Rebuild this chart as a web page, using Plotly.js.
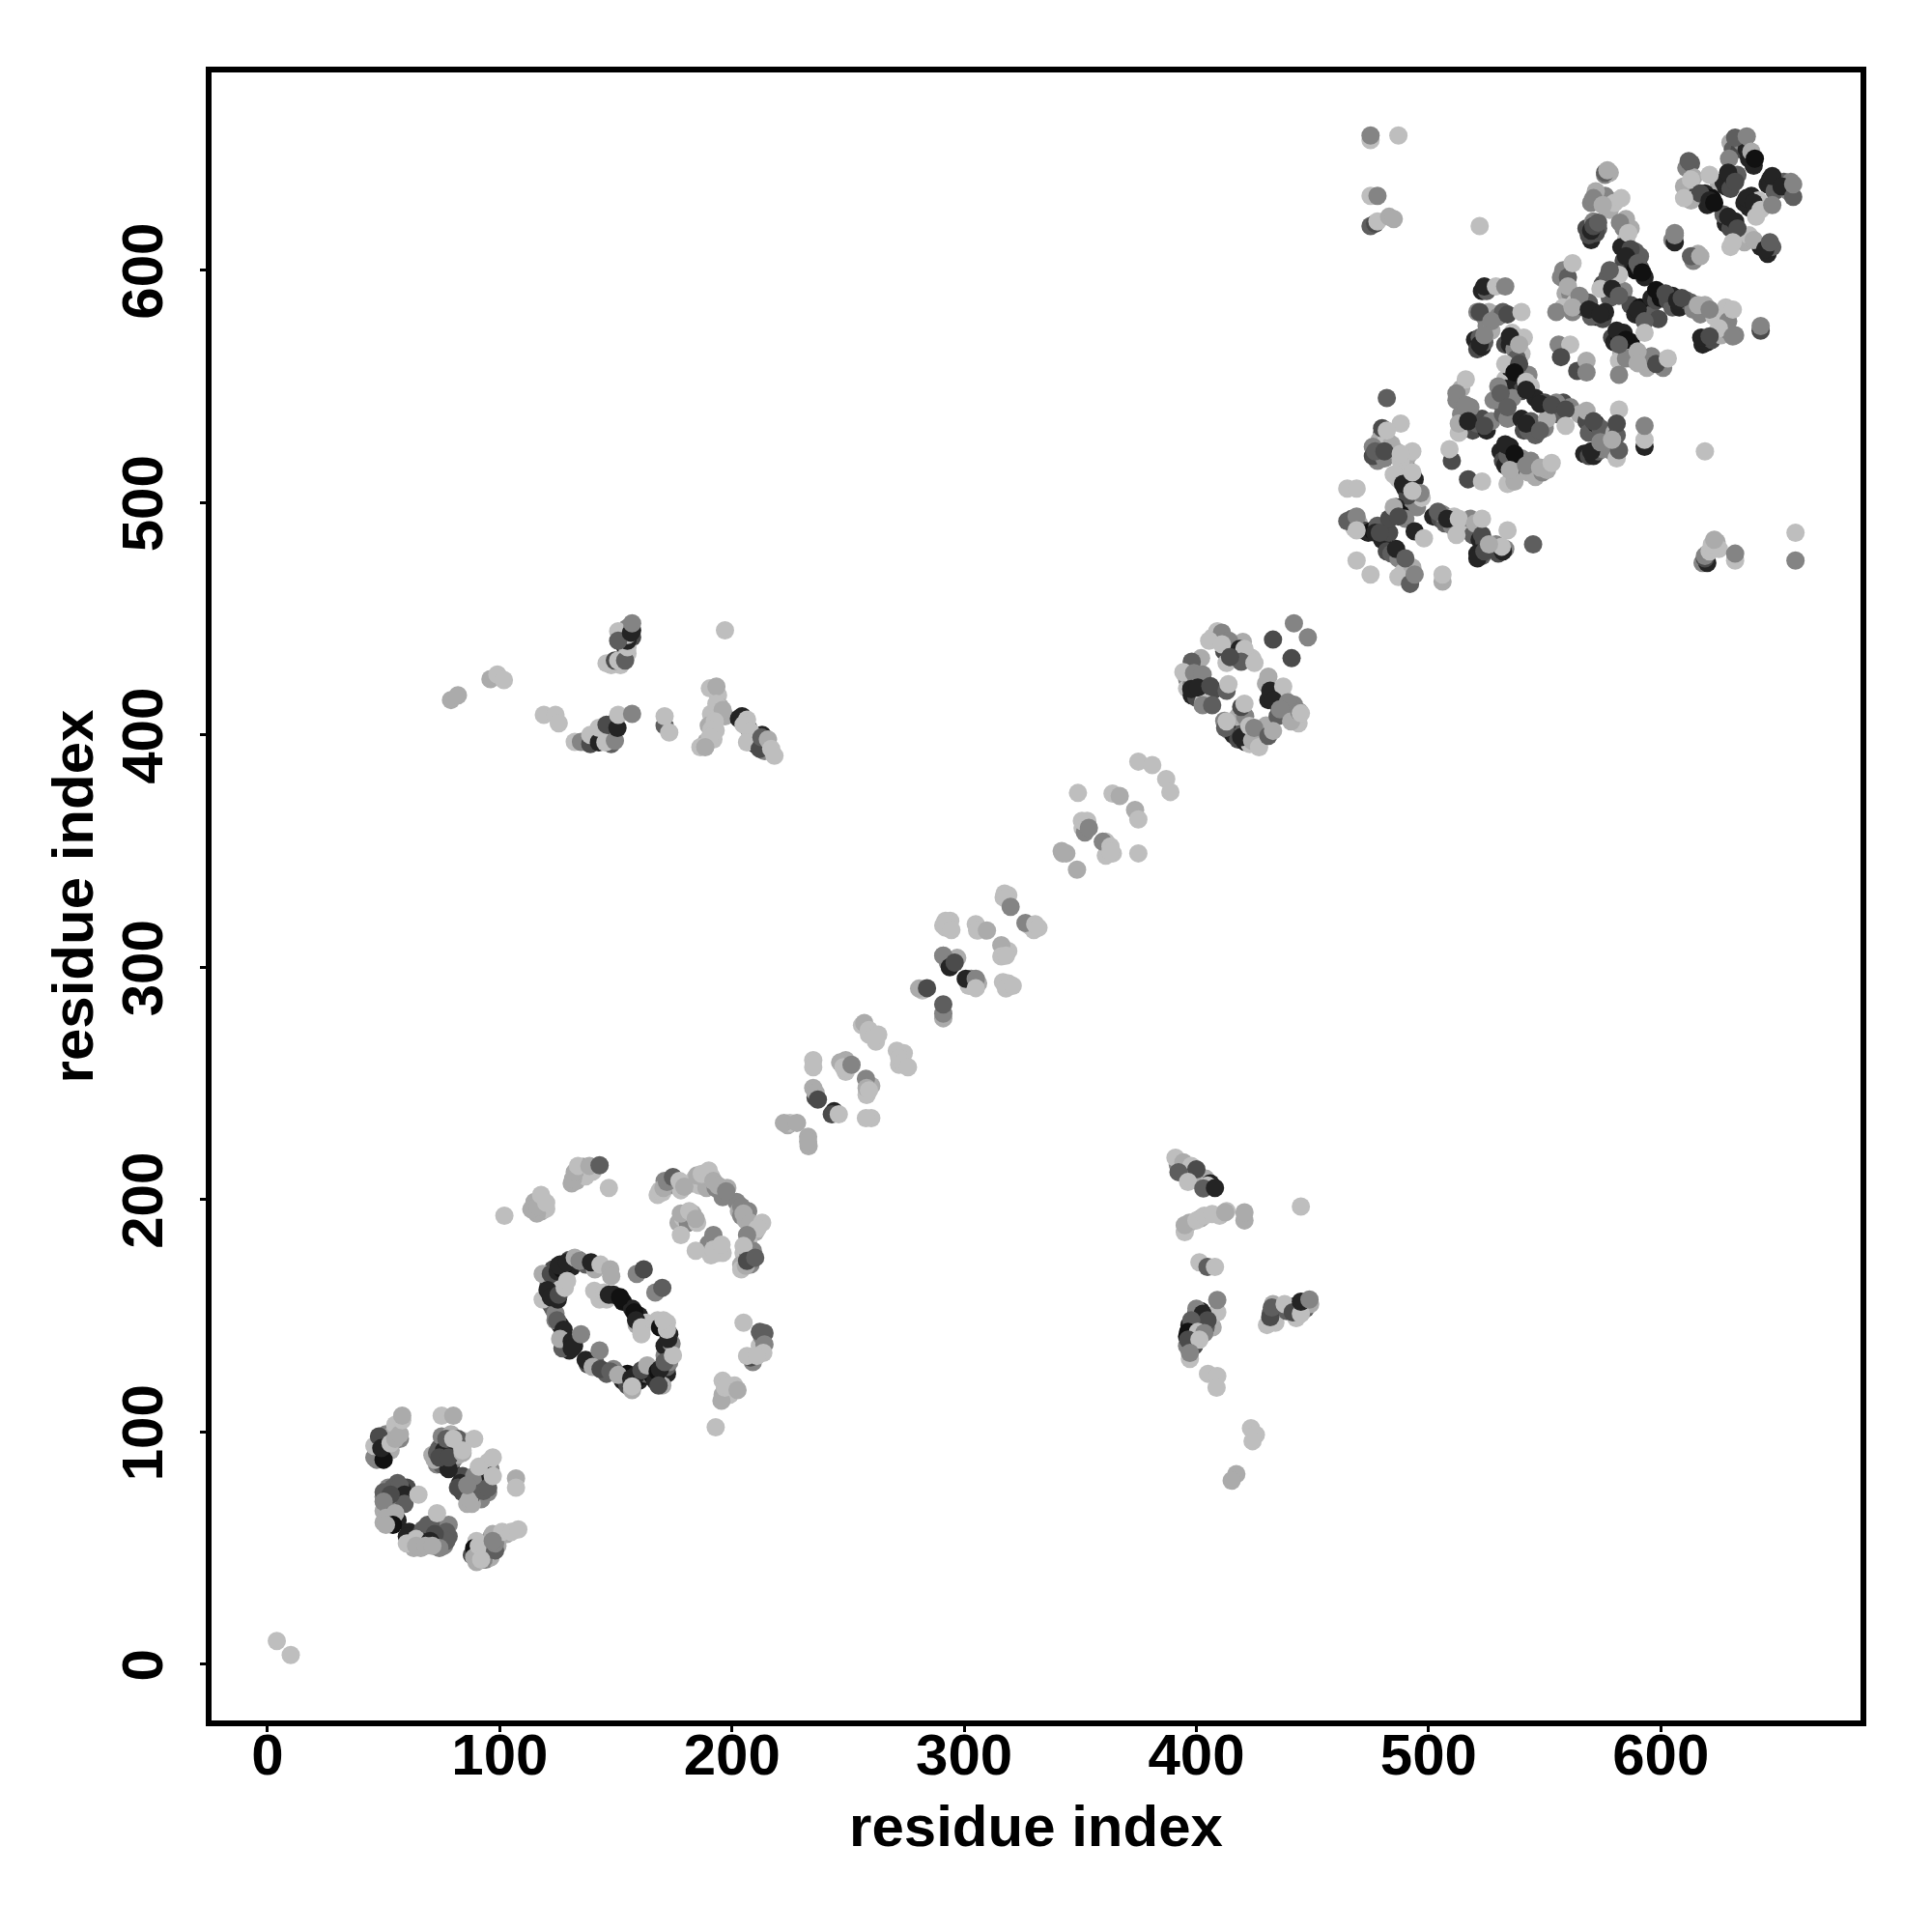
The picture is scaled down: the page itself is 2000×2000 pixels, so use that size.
<!DOCTYPE html>
<html>
<head>
<meta charset="utf-8">
<script src="https://cdn.plot.ly/plotly-3.0.1.min.js"></script>
<style>html,body{margin:0;padding:0;background:#fff}</style>
</head>
<body>
<div id="chart" style="width:2000px;height:2000px"></div>
<script>
const tickValues=[0,100,200,300,400,500,600];
const axisLabel="residue index";
// x residue, y residue, contact score (0 weak .. 9 strong)
const startX=[4,10], startY=[10,4], startS=[0,0];

const helixBackX=[47,48,50,52,53,47,49,51,54,56,57,55, 73,75,77,79,74,76,79,81,80,83,85,82,71,75,79, 84,85,84,88,90,90,92,94,95,93,96,92,86,88,95,
 50,52,56,52,50,55,58,60,50,53,56,58,52, 63,61,65,67,71,74,76,78,73,75,66,76,70,78, 88,90,94,96,95,96,99,100,103,92,90];
const helixBackY=[92,96,91,97,92,88,90,99,99,101,97,103, 86,86,86,86,93,95,94,93,88,94,96,90,90,98,99, 74,80,81,76,72,79,82,78,74,84,84,71,69,69,87,
 72,76,78,66,66,71,71,76,61,62,62,75,68, 50,57,55,58,60,60,59,55,52,55,50,51,57,60, 47,44,45,46,50,54,51,55,56,48,53];
const helixBackS=[3,1,5,5,1,3,6,3,1,1,3,0, 3,5,6,8,5,6,5,3,3,1,0,1,1,3,1, 6,5,6,5,3,6,1,5,3,3,3,3,1,1,0,
 3,3,5,1,1,6,5,6,1,5,8,8,3, 1,8,5,5,5,6,5,5,6,8,1,3,8,3, 6,1,3,1,6,3,1,1,1,8,0];

const ringBackX=[121,123,126,128,130,131,134,137,141, 120,121,122,123,124,123,125,124, 126,128,129,130,127,132,
 138,141,146,149,153,155,155,158,160,161,163,165,166,167,169,170,172,172,173,171,173,170,157,
 171,173,174,168,172, 143,146,149,153,157,160,159,163];
const ringBackY=[166,170,172,172,174,171,174,172,170, 158,163,155,153,151,159,157,162, 146,141,138,135,136,137,
 129,130,125,127,122,120,125,121,122,124,125,126,124,126,122,124,125,128,130,133,135,120,118,
 137,142,138,148,147, 157,157,159,156,153,150,146,147];
const ringBackS=[1,6,8,9,6,8,5,5,1, 8,6,8,5,3,9,8,0, 8,6,8,8,5,8,
 6,5,5,3,8,6,9,8,8,9,5,8,9,9,6,8,8,5,3,3,5,1,1,
 8,8,3,0,0, 0,0,8,9,8,8,1,0];

const archBackX=[168,170,171,173,176,178,183,184,186,188,189,191,193,196,198,202,203,204,206,207,209,210,207,205,207,204,208,209,
 177,179,181,183,185,190,193,194,191,196, 131,133,135,136,140,137,115,118,120,116, 212,209,212,213,196,199,196,201,212];
const archBackY=[202,203,208,206,206,204,207,209,206,209,205,210,205,201,205,199,195,193,191,195,187,186,182,177,176,172,172,178,
 190,192,190,194,190,181,181,177,176,177, 207,208,212,214,212,210,199,195,196,194, 134,130,137,141,116,116,122,120,143];
const archBackS=[0,0,3,1,3,0,1,0,0,1,1,0,3,3,1,3,1,3,1,3,1,1,0,0,3,1,3,3,
 1,0,3,1,0,3,1,0,0,0, 1,1,1,3,0,0,1,1,0,1, 1,3,0,3,1,0,0,0,5];

const diagBackX=[224,233,244,236,235,256,259,262,272,274,249,249,258,260, 282,291,293,297,302,303,306,319,292,294,306,317,319,328,330,317,319, 351,352,362,361,342,344,364,361];
const diagBackY=[232,223,238,244,248,275,271,268,258,263,255,260,245,249, 290,278,302,304,292,295,293,293,317,320,316,330,331,318,316,306,307, 360,358,350,354,350,349,349,348];
const diagBackS=[1,1,8,6,1,0,0,0,0,0,0,1,0,1, 0,1,3,1,0,3,1,0,0,0,0,0,0,0,0,0,0, 0,3,1,0,1,1,0,0];

const knotBackX=[396,398,400,396,398,401,398,400,403,405,407,403, 407,410,412,415,417,419,422,424,416,420,413,
 412,414,416,418,420,421,423,426,428,430,424,418,421, 430,431,433,435,437,438,441,443,442,444,435];
const knotBackY=[424,427,429,420,422,423,417,416,418,417,419,414, 442,441,436,437,439,434,434,433,435,440,431,
 406,402,400,398,401,397,396,398,401,404,402,408,408, 422,415,418,413,417,409,411,407,413,405,408];
const knotBackS=[3,1,3,0,3,0,8,6,1,8,6,0, 0,1,6,8,0,5,3,0,8,1,0,
 3,3,8,6,5,8,0,1,3,1,3,1,3, 1,8,6,3,0,3,5,1,3,0,5];

const sideBackX=[392,395,398,402,404,396,406,397,402,410,413, 399,400,402,397,396,398,399,396,406,407,404,402,400, 432,434,439,442,443,447,447,449,433,
 153,152,154,157,152,157,155,155,148, 141,144,147,148,145,149,149,140,137, 194,195,191,190,193,189,197,192, 203,207,205,208,210,213,211,214,214];
const sideBackY=[215,212,211,209,209,214,207,190,192,193,195, 147,151,146,146,141,140,137,137,147,145,145,152,153, 151,147,152,154,149,153,156,155,155,
 433,430,438,442,442,445,446,435,430, 398,398,398,396,401,401,405,398,397, 417,412,409,404,402,397,408,398, 407,403,407,399,396,400,397,393,396];
const sideBackS=[3,3,5,3,1,0,8,1,1,0,0, 8,9,6,8,9,8,6,3,3,1,5,8,3, 5,0,5,8,0,5,3,1,1,
 5,0,8,6,0,8,3,0,0, 8,9,8,5,8,9,6,5,5, 0,1,0,1,0,1,1,0, 8,6,8,3,8,8,0,3,6];

const farBackX=[570,569,568,571,573,572,570,573,578,576,578,580,576,578,572, 584,585,587,585,587,589,583,584,588,591,589,591,593,
 578,577,578,581,575,577,580,584, 557,558,559,561,563,558,562,565,567,569,571,572,575,576,570,
 587,589,591,593,596,596,598,600,603,605,605,608,611,613, 614,617,619,623,627,628,629,618,620,622,624,626,629,632,
 579,580,582,583,584,586,587,583,587,582,585,593,594,596,601];
const farBackY=[613,615,618,621,618,616,629,632,630,632,626,629,641,642,634, 618,622,618,613,606,608,610,604,603,606,600,601,597,
 596,592,588,593,594,597,590,591, 597,600,590,590,586,584,582,586,584,586,582,580,579,582,580,
 585,581,584,580,581,588,587,588,587,589,584,584,587,586, 583,581,585,580,580,584,578,568,569,570,573,572,574,572,
 571,569,572,567,573,567,569,564,562,561,562,562,558,563,558];
const farBackS=[8,6,6,3,5,6,3,1,1,3,1,0,3,1,1, 3,1,1,0,6,5,8,6,8,5,9,6,8,
 6,8,5,9,6,5,5,3, 3,3,1,3,0,0,3,1,6,5,8,9,6,8,5,
 6,8,9,6,5,8,6,9,6,8,5,8,5,5, 3,3,1,0,0,0,3,8,8,6,3,1,3,3,
 6,8,9,5,8,6,9,1,3,0,3,1,1,3,3];

const cornerBackX=[630,631,634,635,637,638,640,611,613,610,612,614,625,627,628,630,631,633,646,647,650,649,653,655,656,
 618,619,616,620,622,613,636,638,639,640,642,628,630,632,634,627,630,636,638,643,646,648,605,606,614,616];
const cornerBackY=[655,652,652,655,652,648,645,644,646,636,634,640,637,638,636,635,640,641,637,639,636,634,638,634,638,
 631,633,633,628,631,630,629,627,632,630,630,620,618,621,616,624,610,612,615,610,607,610,613,616,604,607];
const cornerBackS=[1,5,6,3,8,8,8,3,5,1,1,1,1,8,8,6,8,5,8,8,8,5,5,3,3,
 8,8,6,8,9,1,8,8,8,8,0,8,6,8,8,5,0,1,0,8,8,5,3,3,3,1];

const coreBackX=[523,525,521,524,526,525,520,521,523,522,524,527,530,532,536, 533,535,537,540,541,533,535,536,538,537,540,543,540,544,538,
 512,514,514,516,515,519,521,523,525,527,513,518,531,533,532,534,536,528,530,
 540,541,543,544,546,550,546,550,553,556,558,561,551,555,
 565,568,569,572,574,567,569,571,573,575,577,579,581,580,581,
 531,532,533,534,535,536,538,540,543,544,546,549,551,534,537];
const coreBackY=[591,591,582,580,582,576,570,566,567,571,569,574,580,582,573, 568,568,566,564,571,553,558,560,553,550,556,555,548,550,562,
 544,549,538,536,533,531,534,536,531,535,530,541,543,549,538,536,545,544,550,
 536,531,531,535,529,532,545,543,540,538,543,541,536,543,
 538,535,530,534,532,521,520,520,522,523,524,522,519,530,529,
 522,518,516,520,524,512,517,519,513,518,511,513,514,508,509];
const coreBackS=[8,5,3,3,1,3,8,6,8,5,5,1,3,5,0, 6,8,3,0,0,0,8,5,6,8,5,3,6,0,5,
 3,1,3,3,8,6,5,6,8,3,0,3,6,8,5,3,3,3,3,
 8,6,5,5,5,3,8,6,8,5,6,3,1,3,
 1,6,5,8,5,8,6,8,5,3,3,3,0,1,5,
 8,6,8,5,8,6,5,3,1,3,1,3,1,0,1];

const lowerBackX=[480,479,482,476,478,476,478,481,484,486,490,491,488,489,490,492,494,493,495,497,491,487,
 467,470,472,474,476,478,480,483,485,483,486,488,490,482,484,487,490,489,492,493,468,
 502,505,507,510,506,511,514,516,518,519,522,524,521,523,525,527,529,530,533, 618,620,620,622,624,625];
const lowerBackY=[530,527,527,524,518,520,522,519,525,522,517,520,518,512,506,505,510,500,498,502,503,510,
 493,491,488,487,488,490,484,487,495,493,498,495,493,479,478,476,474,470,467,472,489,
 494,493,491,490,495,494,491,488,493,486,484,483,478,477,480,481,482,478,480, 474,474,478,480,483,480];
const lowerBackS=[6,1,0,3,3,6,3,3,1,1,3,1,0,0,8,3,8,3,3,0,6,0,
 5,1,6,8,9,5,8,6,5,6,8,9,3,6,5,3,3,0,1,1,0,
 8,6,5,3,3,0,3,0,3,5,8,6,8,5,6,0,3,6,3, 3,8,1,3,1,0];

const helixX=[46,46,48,50,49,53,55,57,58,58, 72,73,76,78,74,78,77,82,75,80,80,84,84,89, 83,82,88,87,91,93,89,86,96,95,97,91,97,107,107,
 54,57,50,59,59,53,50,55,51,54,51,65, 60,60,64,64,69,77,77,72,70,68,74,71,73, 89,89,94,93,91,98,98,97,101,105,108,97,92];
const helixY=[89,94,98,88,93,95,97,99,105,107, 88,91,92,84,89,89,97,97,107,107,97,91,92,97, 78,76,73,71,77,74.5,81,77,81,76,81,85,89,80,76,
 76,76.6,74,73,69,73,70,65,63,60,60,73, 55,52,54,51,60,57,53,56,53,51,50,51,65, 50,46,47,45,51,49,52,56,57,57,58,53,45];
const helixS=[3,0,6,9,8,0,1,1,0,1, 1,5,8,8,6,6,5,5,0,1,0,1,0,0, 8,6,8,1,6,5,3,3,8,5,0,0,0,1,0,
 5,5,5,8,5,6,3,1,1,9,1,0, 8,0,0,1,5,5,5,6,8,1,3,1,0, 9,1,0,3,0,5,3,1,0,0,0,3,0];

const ringX=[118.5,122,125,127,125.4,129,132.3,134.4,139.3,143.4,147.6,148,118.5,120.6,122,125.4,128,129,
 124,124.7,127.5,126,131,131,135,137,143,140,143.4,147.6,151,156.6,158.7,161,157,163.5,167,168,169,168.4,171,174.6,
 172.6,169,172,170.5,140.7,145,147,151.8,158,158.7,161,161,159,162,167,170];
const ringY=[168,168,169,170,171.6,173,175,173.6,173,172,170,167,157,161,158,159,162,165,
 148,148,144,140,139,136,142,131,135,128,127,126,124.5,123,124.5,126.5,119.6,128.6,122,126,127,120,130,133,
 140,145,144,148,160.7,160,159,158,151.5,148,145,142,168,170,160,162];
const ringS=[1,6,8,9,8,8,1,3,8,0,1,1,0,8,8,6,0,0,
 3,5,8,1,8,8,3,8,3,1,6,5,1,8,8,6,0,1,8,9,8,6,5,0,
 8,9,0,0,0,0,8,9,9,8,0,0,3,6,3,5];

const archX=[169,170.5,172,174.6,177.4,179.5,185,187,190,192,194,197.5,204,205,208,213,211,206.5,205,204,206,206.5,210,
 178,181.6,184.4,178,184.4,192,192,195.5,102,113.6,116.4,117.8,120,131.6,132.3,133.7,138.6,143,147,
 205,214,214,213.5,208,206.5,210.7,195.5,197,198,202.4,193];
const archY=[204,205,207.6,209.7,208,205.5,210.4,211,212.5,208,206,203.5,197,194,190,190,187.5,184.7,180,170,171.5,173.6,175,
 194,195,191.7,184.7,178,184.7,178.5,180.6,193,195.8,197,202,198.6,209,211.8,214.5,214.5,214.8,205,
 147,142.5,137.6,134,132,132.7,132.7,113.4,119,120,118,102];
const archS=[0,1,3,5,0,1,1,0,0,1,1,3,3,1,1,0,0,3,0,0,1,6,5,
 1,0,1,0,0,3,0,0,0,1,1,0,0,1,1,0,1,5,0,
 0,5,3,0,6,0,0,1,0,0,1,0];

const midLowX=[225,222.4,228,232.8,232.8,235,235,236,237,243,246,260,257.7,246.6,248,251.5,257.7,258,259,257,259,261,263,271,272,273.7,275.8];
const midLowY=[233,233,233,227,225,260,257,246,243,236.7,236.7,235,235,259,257,258,252,248,247,276,273,270,271,264,261,259,257];
const midLowS=[0,1,1,1,1,0,0,1,6,6,0,0,0,1,0,3,3,1,0,1,0,0,0,0,0,0,0];

const midHighX=[280.6,284,291,291,291,291,295,293.8,295.9,300.7,305,305,316.7,318,320.9,292,291,294.5,305,305.6,309.8,316,316,318,317.4,318,320,326.4,330.6,332,
 342.4,348.6,349,350.7,353,353.7,359.7,363,363,375,363.9,367,373.6,375,375,381,387,388.8];
const midHighY=[290.8,291,280,284,305,305,302,300,302,295,295,291,293.6,290.8,292,320,318,316,318.5,315.8,315.8,309.5,304.7,305,331.7,329.6,326,319,318.5,317,
 349,342,375,363,363,360,354,352,349.7,349,374.7,373.7,367.7,363.6,388.5,387,381,375.4];
const midHighS=[1,6,3,5,1,3,3,8,6,8,3,0,0,0,0,0,0,0,0,0,1,1,0,0,0,0,3,3,0,0,
 1,1,0,0,0,3,3,0,0,0,0,1,1,0,0,0,0,0];

const knotX=[442,433,448,441,409,411,405.5,414,411,418.6,420.7,419.3,425,414.5,402,398,394.4,399,402.7,397.8,400.6,406,413,413.8,402.7,406.8,
 412.4,413,419.3,420.7,419.3,422.8,424,424.9,427,431,433,431,431.8,437.4,433.2,439.4,436,440.8,444.3,445];
const knotY=[448,441,442,433,444.6,444,440.5,440.5,439,437,437,431.5,431,433.5,433,431.5,427,426.6,426,419.7,420.4,421,419,421.8,412.8,412.8,
 403,405.8,412,413.4,399,403.8,397.5,403,394.7,399.6,401.7,425,419,420.8,414.8,414,411,405.8,410,409.3];
const knotS=[3,6,3,6,0,3,0,3,0,8,0,5,0,6,1,5,0,3,3,8,8,6,5,0,3,5,5,0,6,0,8,0,1,3,0,5,1,1,8,0,8,3,3,1,3,0];

const lowRightX=[391,394.4,397.8,392.3,400,396.4,404.8,403,408,395,395,400,403.4,406.8,412.4,420.7,420.7,401.3,404.8,408,
 409,409,402.7,404.8,397.8,396.4,400.6,403.4,396.4,401.3,397.2,397.2,405,409,408.7,423.5,425.6,424.2,417.2,415.2,445,
 430.4,431.8,432.5,438,441.5,445,445,448.7];
const lowRightY=[218,216,214.5,211.8,213,207.6,206,204.8,205,186,189,191,193,193.8,194.5,191,194.5,173,171,171,
 151.5,156.8,150.8,148,148,143,143,142.5,139.7,139.7,131.4,134,125,124,119,101.6,98.8,96,81.8,79,197,
 146,149.4,153.5,155,151.5,150.8,156,157];
const lowRightS=[0,1,0,5,6,0,0,5,8,0,1,0,0,0,1,1,1,0,5,0,
 0,3,8,6,5,9,0,3,6,0,0,3,0,0,0,0,0,0,1,1,0,
 0,6,5,0,6,0,8,3];

const upLeftX=[79,82,96,99,101.8,119,124,125.4,132.3,135,139,139,142.7,142.7,145.5,146,149.6,150.7,151,157,
 146,149.6,151,154,155,155,155,151,151,156.5,157,171,171,173,197,190.5,193.3,193.3,196,192.6,191.2,190.5,186.4,188.5,
 204.4,206.5,205,207.9,206.5,212,212.7,215.5,216.9,218.3];
const upLeftY=[415,417,424,426,423.6,408.6,408.6,405,397,397,396,400,396.8,403,396.8,404.4,397.5,403,408.6,409,
 430.8,432,432,432,437.7,440.5,443,444.6,440.5,444,448,404,408,401,445,420,420.8,413.4,410.7,405.8,402.3,399,394.7,394.7,
 408,406.5,404.4,401.6,396.8,394,398.9,398,394,391];
const upLeftS=[1,1,1,0,0,0,0,0,0,3,6,0,8,0,0,6,3,8,0,3,
 0,6,0,5,0,8,0,0,5,8,3,5,0,0,0,0,1,0,1,0,0,0,0,1,
 8,0,0,0,0,6,5,1,0,0];

const farTopX=[475,475,487,475,478,475,477,478,483,485,522,
 576,577,571,575,583,570,571,573,582.4,586,587,585,590,592,582,578,574,579,582,
 560,562,560,565,555,562,569,574,590,599,593,598,602,607,609,616,621,631,625,631,617.4,621,643,643,
 581,585,582,590,593,590,582,598,603,556,561,557,564,568,568];
const farTopY=[656,658,658,632,632,619,620,621,623,622,619,
 642,643,631,628,631,617,619,620.5,620.5,616,609,606,603,599,598,600,592,592,589,
 597,603,593,589,582,584,583,581,583,579,578,591.5,590,587,588,585,583,583,575,571.5,571,571.5,574,576,
 574,570,568,565,573,560,555,559.6,562,568,568,562.6,556.6,561,556];
const farTopS=[0,3,0,0,3,5,6,0,1,1,0,
 5,1,3,1,0,8,6,5,3,0,6,8,5,9,0,5,0,8,5,
 5,0,1,3,3,1,8,8,8,6,5,9,6,8,6,1,3,0,0,3,8,6,6,3,
 8,9,5,1,0,1,3,6,0,3,0,6,6,1,3];

const cornerX=[632,637,629.4,639,640.5,612,613,621,629,632,648,652,657,657,617,621,623,610,637,640,643,648,629,633,641,631,640,645,647,606,606,613,617];
const cornerY=[657,657.6,648,651,648,647,639,641,642,638,640.5,636,631.6,637,633,630,629,631,631,629,626,628,623,618,623,612,613,609,612,612,615,606,606];
const cornerS=[5,3,3,1,9,5,0,0,8,6,8,8,5,3,6,8,9,0,8,8,0,3,8,6,0,0,1,8,5,8,3,5,1];

const coreX=[524,529,533,522,527,522,524,534,540,535,539,533,539,537,542,542,
 516,512,516,513,517,524,531,534,542,548,533,537,535,542,548,553,
 548,553,559,568,571,559,582,581,570,574,582,579,593,593,593,619];
const coreY=[593,593,593,582,578,568,572,581,582,571.5,568,559.6,559.6,556,552,548.5,
 553,547,542,534,535,533,547,541,534,531,525,521,514,516,515,517,
 542.5,542,540,539.5,535,533,540,534,522,526,522.5,527,524,527,533,522];
const coreS=[8,0,3,6,3,8,3,6,0,8,1,0,6,9,0,8,
 0,3,3,1,8,6,5,5,8,5,8,9,1,3,1,0,
 8,6,6,1,6,0,0,6,8,3,5,1,8,0,3,0];

const lowerPatchX=[482,488,480,482,477,481,493,488,510,509,517,523,485,489,493,496.5,493,465,469,
 465,469,469,477,479,485,487,494,498,486,490,469,475,487,492,494,506,506,
 504,508,513,512,520,523,523,534,521,524,532,531.5,526,545,
 619,619,621,622,623,632,632,658,658];
const lowerPatchY=[545,534,532,531,522,522,522,521,518,523,510,509,512,508,513,504,505,506,506,
 492,494,488,487,487,498,494,487.6,484.6,480,476,475,469,468,465,469,466,469,
 496,493,493,486,491,486,493,488,476,479,479,481,482,482,
 476,477,479,482,484,475,478,487,475];
const lowerPatchS=[5,0,6,0,5,6,0,0,6,0,6,0,0,8,0,3,0,0,0,
 5,3,0,8,6,1,6,8,0,8,5,0,0,0,5,3,1,0,
 5,8,0,0,1,6,0,0,8,6,8,0,1,5,
 6,3,0,0,1,0,3,0,3];

const xs=[startX,helixBackX,ringBackX,archBackX,diagBackX,knotBackX,sideBackX,farBackX,cornerBackX,coreBackX,lowerBackX,
  helixX,ringX,archX,midLowX,midHighX,knotX,lowRightX,upLeftX,farTopX,cornerX,coreX,lowerPatchX].flat();
const ys=[startY,helixBackY,ringBackY,archBackY,diagBackY,knotBackY,sideBackY,farBackY,cornerBackY,coreBackY,lowerBackY,
  helixY,ringY,archY,midLowY,midHighY,knotY,lowRightY,upLeftY,farTopY,cornerY,coreY,lowerPatchY].flat();
const ss=[startS,helixBackS,ringBackS,archBackS,diagBackS,knotBackS,sideBackS,farBackS,cornerBackS,coreBackS,lowerBackS,
  helixS,ringS,archS,midLowS,midHighS,knotS,lowRightS,upLeftS,farTopS,cornerS,coreS,lowerPatchS].flat();

const font={family:'"Liberation Sans",Arial,sans-serif',size:60,color:'#000',weight:700};
function axis(range,angle,standoff,labelShift,alongShift){return{
  range:range,showgrid:false,zeroline:false,showline:true,linecolor:'#000',linewidth:6,mirror:true,
  ticks:'outside',ticklen:6,tickwidth:3,tickcolor:'#000',tickmode:'array',tickvals:tickValues,ticktext:tickValues.map(String),
  ticklabelstandoff:labelShift,ticklabelshift:alongShift,tickangle:angle,tickfont:font,title:{text:axisLabel,font:font,standoff:standoff},automargin:false};}

Plotly.newPlot('chart',[{type:'scatter',mode:'markers',x:xs,y:ys,
  marker:{size:19,color:ss,cmin:0,cmax:9,colorscale:[[0,'#bebebe'],[1,'#111111']],showscale:false,line:{width:0}}}],
 {width:2000,height:2000,autosize:false,showlegend:false,paper_bgcolor:'#fff',plot_bgcolor:'#fff',
  margin:{l:219,r:74,t:75,b:219,pad:0},
  xaxis:axis([-24.1,686],0,22,-28,0),yaxis:axis([-24.2,685.1],-90,0,15,10)},
 {displayModeBar:false,staticPlot:true});
</script>
</body>
</html>
